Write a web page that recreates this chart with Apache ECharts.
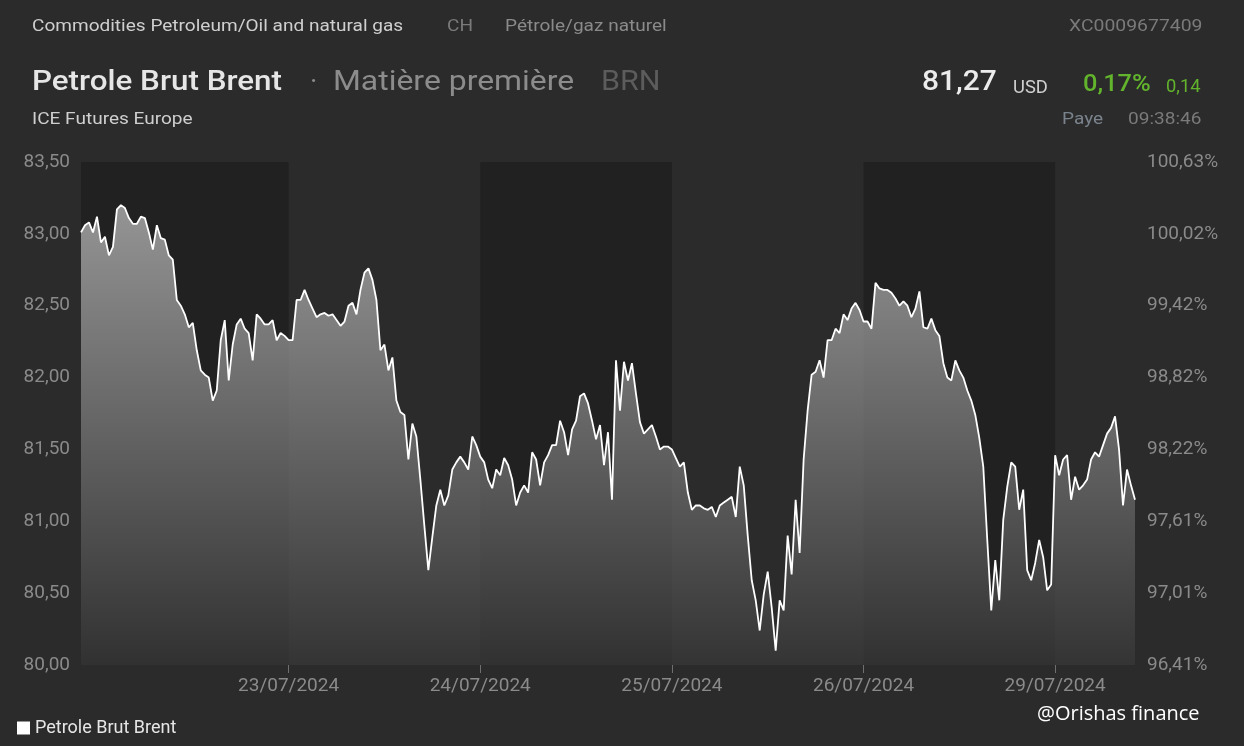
<!DOCTYPE html>
<html>
<head>
<meta charset="utf-8">
<script src="https://cdn.jsdelivr.net/npm/echarts@6/dist/echarts.min.js"></script>
<style>
html,body{margin:0;padding:0;background:#2b2b2b;}
#c{width:1244px;height:746px;}
</style>
</head>
<body>
<div id="c"></div>
<script>
// ---- data ----
const seriesName = 'Petrole Brut Brent';
// trading days shown (weekend skipped), with the slots they contribute (30-min steps)
const sessionDays = ['21/07/2024','22/07/2024','23/07/2024','24/07/2024','25/07/2024','26/07/2024','29/07/2024'];
const firstSlotTime = '22:00';   // first slot on the first day
const lastSlotTime = '10:00';    // last slot on the last day
const dayTickLabels = ['23/07/2024','24/07/2024','25/07/2024','26/07/2024','29/07/2024'];
const shadedDays = [['21/07/2024','23/07/2024'],['24/07/2024','25/07/2024'],['26/07/2024','29/07/2024']];
const prices = [
83.01,83.06,83.08,83.01,83.12,82.94,82.98,82.85,82.91,83.17,
83.20,83.18,83.11,83.07,83.07,83.12,83.11,83.01,82.89,83.06,
82.97,82.96,82.85,82.82,82.54,82.50,82.44,82.35,82.38,82.19,
82.05,82.02,82.00,81.84,81.91,82.26,82.40,81.98,82.23,82.37,
82.41,82.34,82.31,82.12,82.44,82.41,82.37,82.37,82.40,82.26,
82.31,82.29,82.26,82.26,82.54,82.54,82.61,82.54,82.48,82.42,
82.44,82.45,82.43,82.44,82.40,82.36,82.39,82.50,82.52,82.44,
82.61,82.73,82.76,82.68,82.54,82.19,82.23,82.05,82.14,81.84,
81.76,81.74,81.43,81.68,81.59,81.29,80.97,80.66,80.89,81.11,
81.22,81.11,81.18,81.36,81.41,81.45,81.41,81.36,81.59,81.53,
81.45,81.41,81.29,81.23,81.36,81.32,81.44,81.39,81.29,81.11,
81.20,81.25,81.20,81.48,81.43,81.25,81.41,81.46,81.53,81.53,
81.70,81.62,81.46,81.64,81.70,81.87,81.89,81.82,81.70,81.57,
81.67,81.39,81.62,81.15,82.12,81.77,82.11,81.98,82.10,81.89,
81.69,81.61,81.64,81.67,81.59,81.50,81.52,81.52,81.50,81.44,
81.38,81.41,81.20,81.08,81.11,81.11,81.09,81.08,81.10,81.03,
81.11,81.13,81.15,81.17,81.03,81.38,81.25,80.90,80.59,80.45,
80.24,80.49,80.65,80.40,80.10,80.45,80.38,80.90,80.63,81.15,
80.78,81.43,81.77,82.02,82.04,82.12,82.00,82.26,82.26,82.34,
82.31,82.44,82.40,82.48,82.52,82.47,82.39,82.39,82.34,82.66,
82.62,82.61,82.61,82.59,82.55,82.50,82.53,82.50,82.42,82.48,
82.60,82.35,82.34,82.41,82.33,82.29,82.10,82.00,81.98,82.12,
82.05,82.00,81.91,81.84,81.74,81.58,81.38,80.87,80.38,80.73,
80.45,81.01,81.24,81.41,81.38,81.08,81.22,80.66,80.59,80.71,
80.87,80.75,80.52,80.56,81.46,81.32,81.43,81.46,81.15,81.31,
81.22,81.25,81.29,81.43,81.48,81.45,81.53,81.61,81.65,81.73,
81.50,81.11,81.36,81.25,81.15
];
const priceTicks = [80.0, 80.5, 81.0, 81.5, 82.0, 82.5, 83.0, 83.5];
const pctTickLabels = ['96,41%','97,01%','97,61%','98,22%','98,82%','99,42%','100,02%','100,63%'];

// ---- build category slots (30 min) ----
function buildSlots() {
  const out = [];
  sessionDays.forEach((d, di) => {
    for (let m = 0; m < 24 * 60; m += 30) {
      const hh = String(Math.floor(m / 60)).padStart(2, '0');
      const mm = String(m % 60).padStart(2, '0');
      const t = hh + ':' + mm;
      if (di === 0 && t < firstSlotTime) continue;
      if (di === sessionDays.length - 1 && t > lastSlotTime) continue;
      out.push(d + ' ' + t);
    }
  });
  return out;
}
const categories = buildSlots();
const isDayStart = (idx, val) => {
  const d = String(val).slice(0, 10);
  return String(val).endsWith(' 00:00') && dayTickLabels.indexOf(d) >= 0;
};

const chart = echarts.init(document.getElementById('c'), null, {renderer: 'canvas'});
const FONT = 'Roboto, "Noto Sans", sans-serif';
const axisGrey = '#8a8a8a';
const SX = 1.12; // horizontal stretch seen on the header texts

function txt(x, y, text, fill, font, sx) {
  return {type: 'text', x: x, y: y, scaleX: sx || 1, silent: true,
    style: {text: text, fill: fill, font: font, textVerticalAlign: 'middle', verticalAlign: 'middle'}};
}

const option = {
  backgroundColor: '#2b2b2b',
  animation: false,
  textStyle: {fontFamily: FONT},
  grid: {left: 81, right: 109, top: 162, bottom: 81, containLabel: false},
  legend: {
    data: [seriesName],
    left: 12, top: 714,
    icon: 'rect', itemWidth: 13, itemHeight: 13, itemGap: 8,
    textStyle: {color: '#e6e6e6', fontSize: 18, fontFamily: FONT}
  },
  xAxis: {
    type: 'category',
    data: categories,
    boundaryGap: false,
    axisLine: {show: false},
    axisTick: {show: true, interval: isDayStart, length: 8, lineStyle: {color: '#6f6f6f'}},
    axisLabel: {
      interval: isDayStart, color: axisGrey, fontSize: 19, margin: 12, fontFamily: FONT,
      formatter: v => String(v).slice(0, 10)
    },
    splitLine: {show: false}
  },
  yAxis: [{
    type: 'value', min: 80, max: 83.5, interval: 0.5, position: 'left',
    axisLine: {show: false}, axisTick: {show: false}, splitLine: {show: false},
    axisLabel: {color: axisGrey, fontSize: 19, margin: 11, fontFamily: FONT,
      formatter: v => v.toFixed(2).replace('.', ',')}
  }, {
    type: 'value', min: 80, max: 83.5, interval: 0.5, position: 'right',
    axisLine: {show: false}, axisTick: {show: false}, splitLine: {show: false},
    axisLabel: {color: axisGrey, fontSize: 19, margin: 12, fontFamily: FONT,
      formatter: v => pctTickLabels[priceTicks.findIndex(p => Math.abs(p - v) < 1e-6)] || ''}
  }],
  series: [{
    name: seriesName,
    type: 'line',
    data: prices,
    yAxisIndex: 0,
    showSymbol: false,
    symbol: 'none',
    color: '#ffffff',
    lineStyle: {color: '#ffffff', width: 1.8},
    areaStyle: {
      origin: 'start',
      color: new echarts.graphic.LinearGradient(0, 0, 0, 1, [
        {offset: 0, color: '#c6c6c6'},
        {offset: 1, color: '#383838'}
      ])
    },
    markArea: {
      silent: true,
      itemStyle: {color: '#212121'},
      data: shadedDays.map(([a, b]) => [
        {xAxis: categories.find(c => c.startsWith(a))},
        {xAxis: b + ' 00:00'}
      ])
    },
    z: 2
  }],
  graphic: [
    txt(32, 27, 'Commodities Petroleum/Oil and natural gas', '#cfcfcf', '17px ' + FONT, SX),
    txt(447, 27, 'CH', '#7a7a7a', '17px ' + FONT, SX),
    txt(505, 27, 'Pétrole/gaz naturel', '#8a8a8a', '17px ' + FONT, SX),
    txt(1069, 27, 'XC0009677409', '#7a7a7a', '17px ' + FONT, 1.14),
    txt(32, 83, 'Petrole Brut Brent', '#e6e6e6', '500 28px ' + FONT, SX),
    txt(310, 83, '·', '#8a8a8a', '28px ' + FONT, 1),
    txt(333, 83, 'Matière première', '#8c8c8c', '28px ' + FONT, 1.14),
    txt(601, 83, 'BRN', '#5c5c5c', '28px ' + FONT, 1.09),
    txt(922, 83, '81,27', '#ececec', '500 28px ' + FONT, 1.07),
    txt(1013, 88, 'USD', '#d0d0d0', '18px ' + FONT, 1.02),
    txt(1083, 85, '0,17%', '#62b42c', '500 24px ' + FONT, 1.06),
    txt(1166, 87, '0,14', '#62b42c', '18px ' + FONT, 1.02),
    txt(32, 120, 'ICE Futures Europe', '#cfcfcf', '17px ' + FONT, SX),
    txt(1062, 120, 'Paye', '#7a838c', '17px ' + FONT, SX),
    txt(1128, 120, '09:38:46', '#7a7a7a', '17px ' + FONT, SX),
    txt(1037, 714, '@Orishas finance', '#ffffff', '20px "Open Sans", "Noto Sans", sans-serif', 1)
  ]
};
chart.setOption(option);
</script>
</body>
</html>
